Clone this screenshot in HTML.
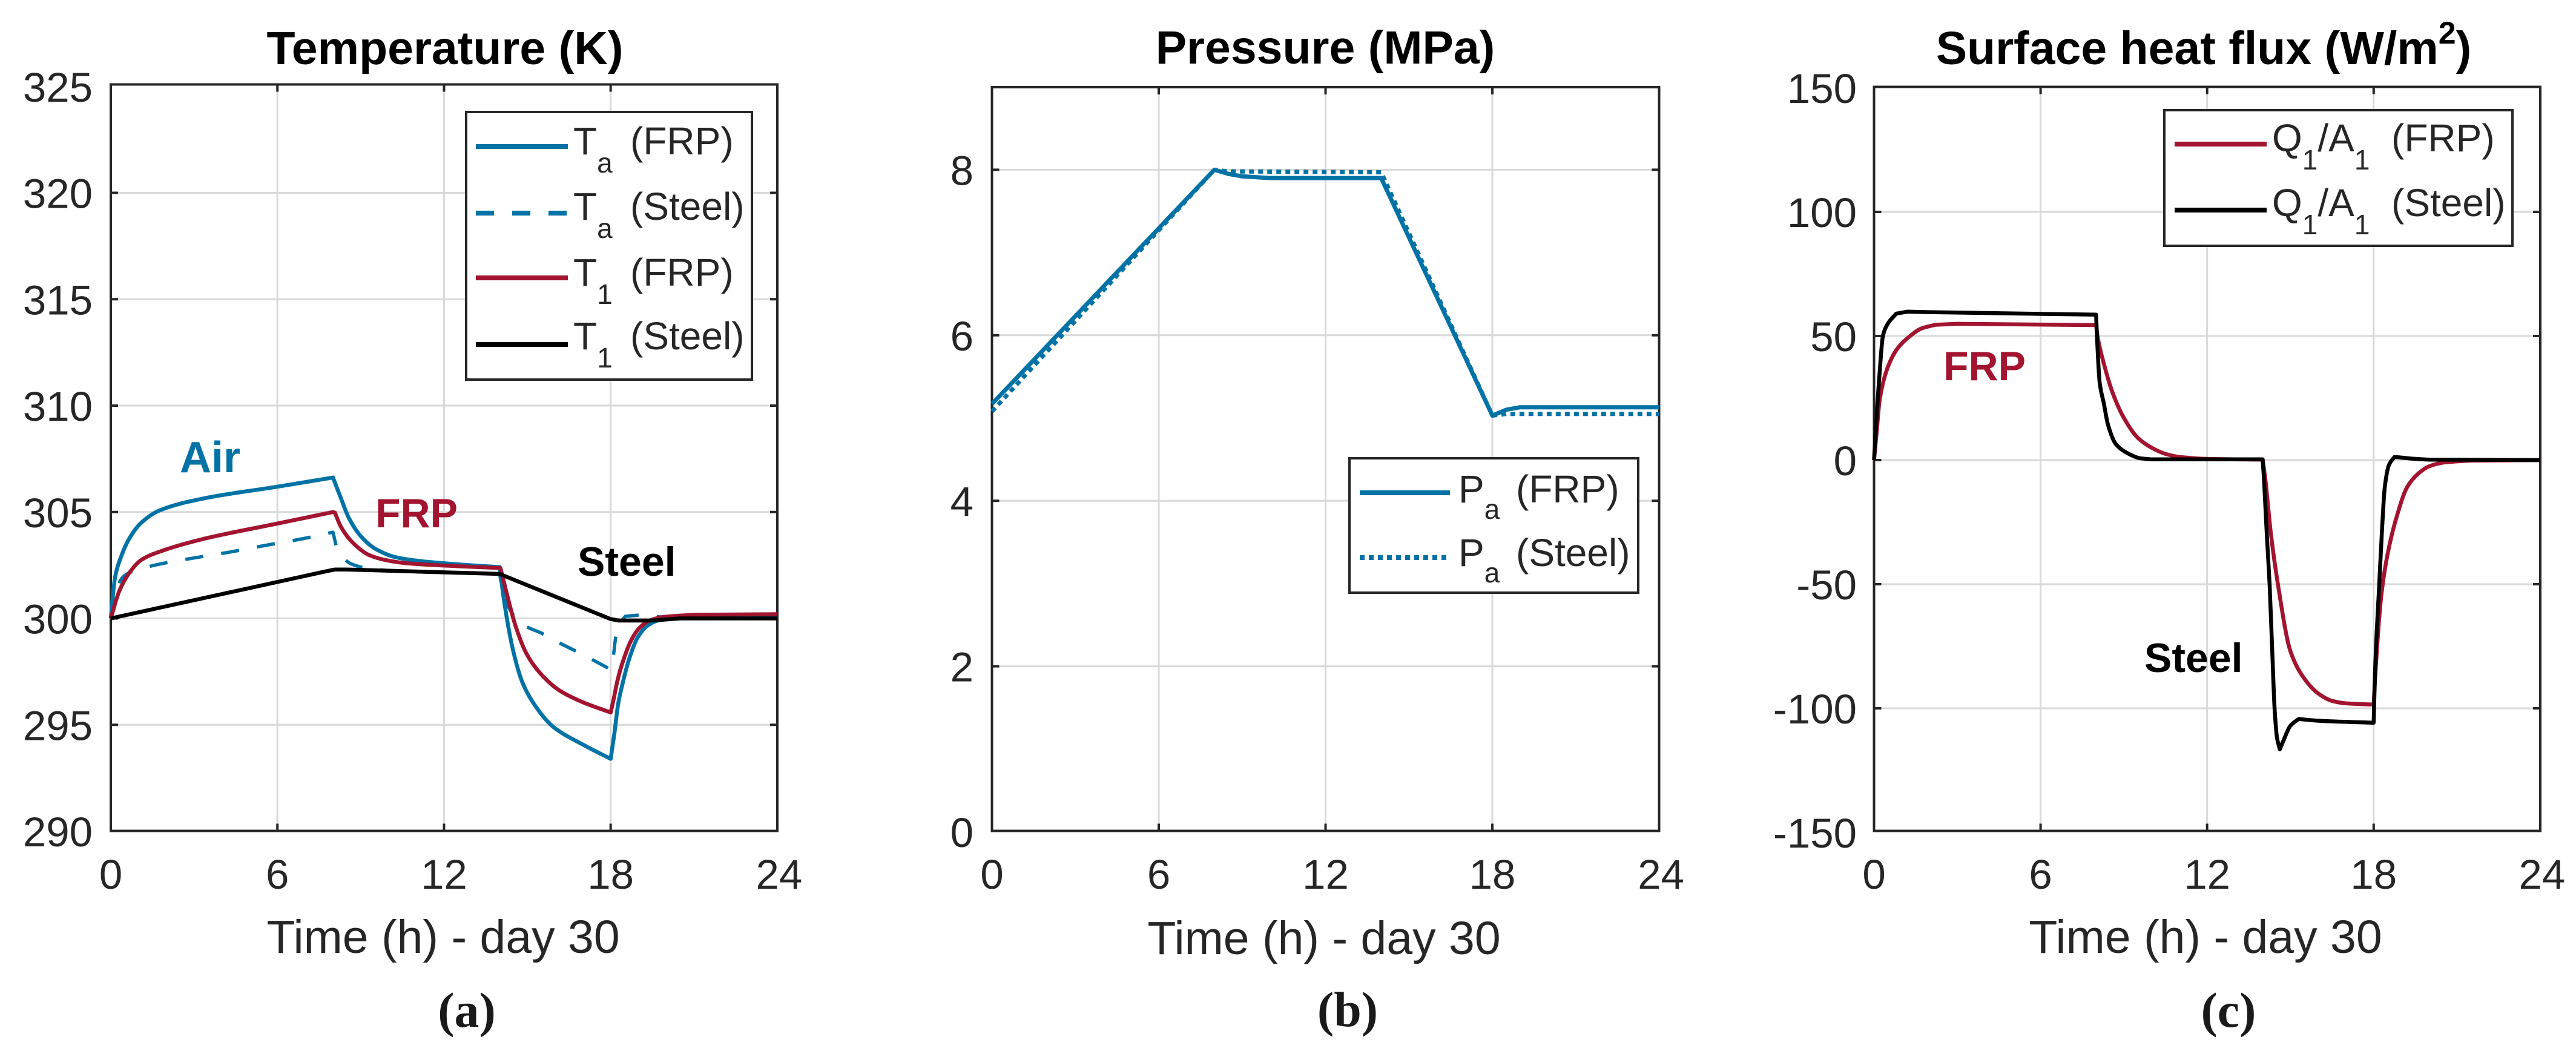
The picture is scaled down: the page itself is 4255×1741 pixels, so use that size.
<!DOCTYPE html>
<html lang="en">
<head>
<meta charset="utf-8">
<title>Temperature, pressure and surface heat flux - day 30</title>
<style>
html,body{margin:0;padding:0;background:#fff;}
svg{display:block;font-family:"Liberation Sans",Arial,sans-serif;}
.tick{font-size:69px;fill:#262626;}
.axis-label{font-size:77px;fill:#262626;text-anchor:middle;}
.title{font-size:77px;font-weight:bold;fill:#000;text-anchor:middle;}
.caption{font-family:"Liberation Serif",serif;font-size:82px;font-weight:bold;fill:#1a1a1a;text-anchor:middle;}
.legend-text{font-size:64px;fill:#262626;}
.sub{font-size:46px;}
.note{font-size:68px;font-weight:bold;}
</style>
</head>
<body>
<svg id="figure" xmlns="http://www.w3.org/2000/svg" width="4255" height="1741" viewBox="0 0 4255 1741">
  <rect width="4255" height="1741" fill="#fff"/>
  <g id="panel-a"></g>
  <g id="panel-b"></g>
  <g id="panel-c"></g>

  <g>
    <text class="title" x="735" y="106">Temperature (K)</text>
    <text class="title" x="2189" y="105">Pressure (MPa)</text>
    <text class="title" x="3640" y="106">Surface heat flux (W/m<tspan font-size="52" dy="-34">2</tspan><tspan dy="34">)</tspan></text>
  </g>

  <g>
    <text class="axis-label" x="732" y="1574">Time (h) - day 30</text>
    <text class="axis-label" x="2187" y="1576">Time (h) - day 30</text>
    <text class="axis-label" x="3643" y="1574">Time (h) - day 30</text>
  </g>

  <g>
    <text class="caption" x="771" y="1696">(a)</text>
    <text class="caption" x="2226" y="1695">(b)</text>
    <text class="caption" x="3681" y="1696">(c)</text>
  </g>

  <g>
    <text class="note" x="297" y="780" fill="#0072a5" style="font-size:72px">Air</text>
    <text class="note" x="620" y="871" fill="#a2142f">FRP</text>
    <text class="note" x="954" y="951" fill="#000">Steel</text>
  </g>
  <g>
    <text class="note" x="3210" y="628" fill="#a2142f">FRP</text>
    <text class="note" x="3542" y="1110" fill="#000">Steel</text>
  </g>

  <g>
    <rect x="770" y="185" width="472" height="442" fill="#fff" stroke="#262626" stroke-width="4"/>
    <g>
      <line x1="786" x2="938" y1="242" y2="242" stroke="#0072a5" stroke-width="8"/>
      <text class="legend-text" x="947" y="255">T<tspan class="sub" dy="30">a</tspan><tspan x="1041" dy="-30">(FRP)</tspan></text>
    </g>
    <g>
      <line x1="786" x2="938" y1="352" y2="352" stroke="#0072a5" stroke-width="8" stroke-dasharray="30 30"/>
      <text class="legend-text" x="947" y="363">T<tspan class="sub" dy="30">a</tspan><tspan x="1041" dy="-30">(Steel)</tspan></text>
    </g>
    <g>
      <line x1="786" x2="938" y1="459" y2="459" stroke="#a2142f" stroke-width="8"/>
      <text class="legend-text" x="947" y="472">T<tspan class="sub" dy="30">1</tspan><tspan x="1041" dy="-30">(FRP)</tspan></text>
    </g>
    <g>
      <line x1="786" x2="938" y1="569" y2="569" stroke="#000" stroke-width="8"/>
      <text class="legend-text" x="947" y="577">T<tspan class="sub" dy="30">1</tspan><tspan x="1041" dy="-30">(Steel)</tspan></text>
    </g>
  </g>

  <g>
    <rect x="2229" y="757" width="477" height="222" fill="#fff" stroke="#262626" stroke-width="4"/>
    <g>
      <line x1="2246" x2="2395" y1="814" y2="814" stroke="#0072a5" stroke-width="8"/>
      <text class="legend-text" x="2409" y="830">P<tspan class="sub" dy="27">a</tspan><tspan x="2504" dy="-27">(FRP)</tspan></text>
    </g>
    <g>
      <line x1="2246" x2="2395" y1="921" y2="921" stroke="#0072a5" stroke-width="8" stroke-dasharray="8 7"/>
      <text class="legend-text" x="2409" y="935">P<tspan class="sub" dy="27">a</tspan><tspan x="2504" dy="-27">(Steel)</tspan></text>
    </g>
  </g>

  <g>
    <rect x="3575" y="182" width="575" height="224" fill="#fff" stroke="#262626" stroke-width="4"/>
    <g>
      <line x1="3592" x2="3744" y1="238" y2="238" stroke="#a2142f" stroke-width="8"/>
      <text class="legend-text" x="3753" y="250">Q<tspan class="sub" dy="30">1</tspan><tspan dy="-30">/A</tspan><tspan class="sub" dy="30">1</tspan><tspan x="3950" dy="-30">(FRP)</tspan></text>
    </g>
    <g>
      <line x1="3592" x2="3744" y1="347" y2="347" stroke="#000" stroke-width="8"/>
      <text class="legend-text" x="3753" y="357">Q<tspan class="sub" dy="30">1</tspan><tspan dy="-30">/A</tspan><tspan class="sub" dy="30">1</tspan><tspan x="3950" dy="-30">(Steel)</tspan></text>
    </g>
  </g>
</svg>

<script>
// ---- tick labels ----
const hourTicks = [0, 6, 12, 18, 24];
const temperatureTicks = [290, 295, 300, 305, 310, 315, 320, 325];
const pressureTicks = [0, 2, 4, 6, 8];
const fluxTicks = [-150, -100, -50, 0, 50, 100, 150];

// ---- panel (a) temperature, K ----
const taFrpHours = [0, 0.15, 0.37, 0.66, 1.1, 1.75, 3.35, 6, 8, 8.29, 8.58, 9.02, 9.53, 10.25, 11.1, 12.4, 14, 14.2, 14.5, 14.82, 15.2, 15.92, 17, 18, 18.13, 18.27, 18.46, 18.68, 18.97, 19.34, 19.7, 20.2, 21, 24];
const taFrpKelvin = [300, 301.9, 302.9, 303.74, 304.5, 305.07, 305.64, 306.19, 306.62, 305.64, 304.7, 303.84, 303.27, 302.88, 302.7, 302.55, 302.41, 300.5, 298.43, 297, 296.06, 294.92, 294.07, 293.4, 294.55, 295.97, 297.1, 298.15, 299.1, 299.67, 299.9, 300, 300.1, 300.1];
const taSteelHours = [0, 0.15, 0.35, 0.6, 1, 1.68, 2.99, 4.3, 5.6, 6.9, 8, 8.15, 8.35, 8.6, 9.25, 10, 12, 14, 14.1, 14.3, 14.6, 14.93, 15.52, 16.14, 16.72, 17.33, 18, 18.1, 18.18, 18.3, 18.53, 18.97, 20, 24];
const taSteelKelvin = [300, 301, 301.8, 302.1, 302.3, 302.53, 302.84, 303.12, 303.44, 303.74, 304.05, 303.3, 302.9, 302.6, 302.35, 302.25, 302.15, 302.1, 301.4, 300.6, 300, 299.64, 299.3, 298.86, 298.48, 298.07, 297.6, 298.25, 299.1, 299.7, 300.1, 300.15, 300.05, 300];
const t1FrpHours = [0, 0.3, 0.66, 1.1, 1.9, 3.35, 5.97, 8, 8.07, 8.29, 8.72, 9.3, 9.9, 10.6, 12.4, 14.03, 14.39, 14.57, 14.97, 15.48, 16.14, 17, 18, 18.1, 18.25, 18.46, 18.75, 19.05, 19.4, 19.92, 21, 24];
const t1FrpKelvin = [300, 301.27, 302.13, 302.75, 303.2, 303.74, 304.45, 305, 304.97, 304.3, 303.55, 302.98, 302.74, 302.6, 302.46, 302.37, 300.5, 299.67, 298.34, 297.4, 296.63, 296.06, 295.58, 296.15, 297.1, 298.05, 299, 299.57, 299.9, 300.07, 300.17, 300.2];
const t1SteelHours = [0, 7.7, 8.07, 8.5, 14, 18, 18.3, 19.5, 20.5, 24];
const t1SteelKelvin = [300, 302.2, 302.3, 302.3, 302.09, 299.97, 299.9, 299.9, 300, 300];

// ---- panel (b) pressure, MPa ----
const paFrpHours = [0, 8, 8.5, 9, 10, 14, 18, 18.5, 19, 24];
const paFrpMpa = [5.17, 8, 7.95, 7.92, 7.9, 7.9, 5.03, 5.1, 5.13, 5.13];
const paSteelHours = [0, 8, 8.5, 14, 18, 18.5, 24];
const paSteelMpa = [5.08, 8, 7.98, 7.97, 5.03, 5.05, 5.05];

// ---- panel (c) surface heat flux, W/m2 ----
const fluxFrpHours = [0, 0.1, 0.2, 0.47, 0.82, 1.3, 1.7, 2.2, 3, 8, 8.05, 8.3, 8.6, 9, 9.5, 10, 10.5, 11, 12, 14, 14.1, 14.3, 14.55, 15, 15.5, 16, 16.5, 17, 18, 18.05, 18.27, 18.5, 18.85, 19.2, 19.6, 20, 20.5, 21.5, 24];
const fluxFrpValues = [0, 12, 24, 36.6, 44.6, 50, 53, 54.5, 54.9, 54.4, 50, 38, 27, 17, 9, 5, 2.5, 1.3, 0.5, 0.2, -8, -30, -50, -77, -88, -94, -97, -98, -98.5, -88, -55, -38, -22, -11, -5.5, -2.5, -1, -0.2, 0];
const fluxSteelHours = [0, 0.08, 0.2, 0.32, 0.5, 0.8, 1.2, 2, 8, 8.04, 8.13, 8.28, 8.42, 8.71, 9.2, 9.55, 10, 14, 14.05, 14.15, 14.25, 14.35, 14.43, 14.52, 14.62, 14.75, 15, 15.3, 16, 18, 18.05, 18.2, 18.3, 18.4, 18.55, 18.75, 19.5, 20, 24];
const fluxSteelValues = [0, 15, 35, 50, 55, 59, 59.8, 59.6, 58.6, 48, 31, 22.8, 14.6, 6.5, 2.4, 0.8, 0.3, 0.3, -8, -30, -50, -78, -100, -112, -116.5, -113, -107, -104.3, -105, -105.8, -85, -50, -28, -11, -2, 1.3, 0.5, 0.2, 0];

// ---- axis functions ----
const tempX = h => 183 + h * 45.87;
const tempY = v => 1373 - (v - 290) * 35.15;
const pressX = h => 1638.5 + h * 45.92;
const pressY = v => 1374 - v * 136.7;
const fluxX = h => 3095.5 + h * 45.85;
const fluxY = v => 760 - v * 4.1;

const NS = 'http://www.w3.org/2000/svg';
function make(parent, tag, attrs) {
  const el = document.createElementNS(NS, tag);
  for (const k in attrs) el.setAttribute(k, attrs[k]);
  parent.appendChild(el);
  return el;
}

function drawAxes(panel, name, box, xFn, yFn, yTicks, yLabelRight, yLimits) {
  const grid = make(panel, 'g', {});
  
  
  hourTicks.forEach((h, i) => {
    if (i === 0 || i === hourTicks.length - 1) return;
    const line = make(grid, 'line', {x1: xFn(h), x2: xFn(h), y1: box.top, y2: box.bottom, stroke: '#d9d9d9', 'stroke-width': 3});
    
    
  });
  yTicks.forEach(v => {
    if (yLimits.includes(v)) return;
    const line = make(grid, 'line', {x1: box.left, x2: box.right, y1: yFn(v), y2: yFn(v), stroke: '#d9d9d9', 'stroke-width': 3});
    
    
  });

  const ticks = make(panel, 'g', {stroke: '#262626', 'stroke-width': 4});
  
  
  hourTicks.forEach((h, i) => {
    if (i === 0 || i === hourTicks.length - 1) return;
    const bottomTick = make(ticks, 'line', {x1: xFn(h), x2: xFn(h), y1: box.bottom, y2: box.bottom - 12});
    
    
    const topTick = make(ticks, 'line', {x1: xFn(h), x2: xFn(h), y1: box.top, y2: box.top + 12});
    
    
  });
  yTicks.forEach(v => {
    if (yLimits.includes(v)) return;
    const leftTick = make(ticks, 'line', {x1: box.left, x2: box.left + 12, y1: yFn(v), y2: yFn(v)});
    
    
    const rightTick = make(ticks, 'line', {x1: box.right, x2: box.right - 12, y1: yFn(v), y2: yFn(v)});
    
    
  });

  hourTicks.forEach(h => {
    const label = make(panel, 'text', {class: 'tick', x: xFn(h) + (h === 24 ? 3 : 0), y: 1468, 'text-anchor': 'middle'});
    
    
    label.textContent = h;
  });
  yTicks.forEach(v => {
    const label = make(panel, 'text', {class: 'tick', x: yLabelRight, y: yFn(v) + 25, 'text-anchor': 'end'});
    
    
    label.textContent = v;
  });
}

function drawFrame(panel, name, box) {
  const frame = make(panel, 'rect', {x: box.left, y: box.top, width: box.right - box.left, height: box.bottom - box.top, fill: 'none', stroke: '#262626', 'stroke-width': 4});
  
  
}

// cubic through the data points; slope reversals and abrupt slope jumps stay sharp corners
function curvePath(xs, ys) {
  const n = xs.length;
  const slopes = [];
  for (let i = 0; i < n - 1; i++) slopes.push((ys[i + 1] - ys[i]) / (xs[i + 1] - xs[i]));
  const inT = [slopes[0]], outT = [slopes[0]];
  for (let i = 1; i < n - 1; i++) {
    const a = slopes[i - 1], b = slopes[i];
    const ratio = Math.max(Math.abs(a), Math.abs(b)) / Math.max(1e-6, Math.min(Math.abs(a), Math.abs(b)));
    if (a * b <= 0 || ratio > 6) {
      inT.push(a);
      outT.push(b);
    } else {
      const h0 = xs[i] - xs[i - 1], h1 = xs[i + 1] - xs[i];
      const w0 = 2 * h1 + h0, w1 = h1 + 2 * h0;
      const t = (w0 + w1) / (w0 / a + w1 / b);
      inT.push(t);
      outT.push(t);
    }
  }
  inT.push(slopes[n - 2]);
  outT.push(slopes[n - 2]);
  let d = 'M' + xs[0].toFixed(1) + ' ' + ys[0].toFixed(1);
  for (let i = 0; i < n - 1; i++) {
    const h = (xs[i + 1] - xs[i]) / 3;
    d += 'C' + (xs[i] + h).toFixed(1) + ' ' + (ys[i] + outT[i] * h).toFixed(1) + ' ' +
         (xs[i + 1] - h).toFixed(1) + ' ' + (ys[i + 1] - inT[i + 1] * h).toFixed(1) + ' ' +
         xs[i + 1].toFixed(1) + ' ' + ys[i + 1].toFixed(1);
  }
  return d;
}

function straightPath(xs, ys) {
  return xs.map((x, i) => (i ? 'L' : 'M') + x.toFixed(1) + ' ' + ys[i].toFixed(1)).join('');
}

function drawSeries(panel, seriesName, hours, values, xFn, yFn, color, width, opts) {
  const o = opts || {};
  const xs = hours.map(xFn), ys = values.map(yFn);
  const attrs = {d: o.straight ? straightPath(xs, ys) : curvePath(xs, ys), fill: 'none', stroke: color, 'stroke-width': width, 'stroke-linejoin': 'round'};
  if (o.dash) attrs['stroke-dasharray'] = o.dash;
  const line = make(panel, 'path', attrs);
  
  
}

const BLUE = '#0072a5', RED = '#a2142f', BLACK = '#000';

const panelA = document.getElementById('panel-a');
const boxA = {left: 183, right: 1284, top: 139.5, bottom: 1372.5};
drawAxes(panelA, 'temperature', boxA, tempX, tempY, temperatureTicks, 153, [290, 325]);
drawFrame(panelA, 'temperature', boxA);
drawSeries(panelA, 'series-ta-frp', taFrpHours, taFrpKelvin, tempX, tempY, BLUE, 6.5);
drawSeries(panelA, 'series-ta-steel', taSteelHours, taSteelKelvin, tempX, tempY, BLUE, 5.5, {dash: '30 30'});
drawSeries(panelA, 'series-t1-frp', t1FrpHours, t1FrpKelvin, tempX, tempY, RED, 6.5);
drawSeries(panelA, 'series-t1-steel', t1SteelHours, t1SteelKelvin, tempX, tempY, BLACK, 6.5, {straight: true});

const panelB = document.getElementById('panel-b');
const boxB = {left: 1638.5, right: 2740.5, top: 144, bottom: 1372.5};
drawAxes(panelB, 'pressure', boxB, pressX, pressY, pressureTicks, 1608, [0]);
drawFrame(panelB, 'pressure', boxB);
drawSeries(panelB, 'series-pa-frp', paFrpHours, paFrpMpa, pressX, pressY, BLUE, 7, {straight: true});
drawSeries(panelB, 'series-pa-steel', paSteelHours, paSteelMpa, pressX, pressY, BLUE, 7, {straight: true, dash: '8 7'});

const panelC = document.getElementById('panel-c');
const boxC = {left: 3095.5, right: 4196, top: 143.5, bottom: 1372.5};
drawAxes(panelC, 'heat-flux', boxC, fluxX, fluxY, fluxTicks, 3067, [-150, 150]);
drawFrame(panelC, 'heat-flux', boxC);
drawSeries(panelC, 'series-flux-frp', fluxFrpHours, fluxFrpValues, fluxX, fluxY, RED, 6.5);
drawSeries(panelC, 'series-flux-steel', fluxSteelHours, fluxSteelValues, fluxX, fluxY, BLACK, 6.5);
</script>
</body>
</html>
